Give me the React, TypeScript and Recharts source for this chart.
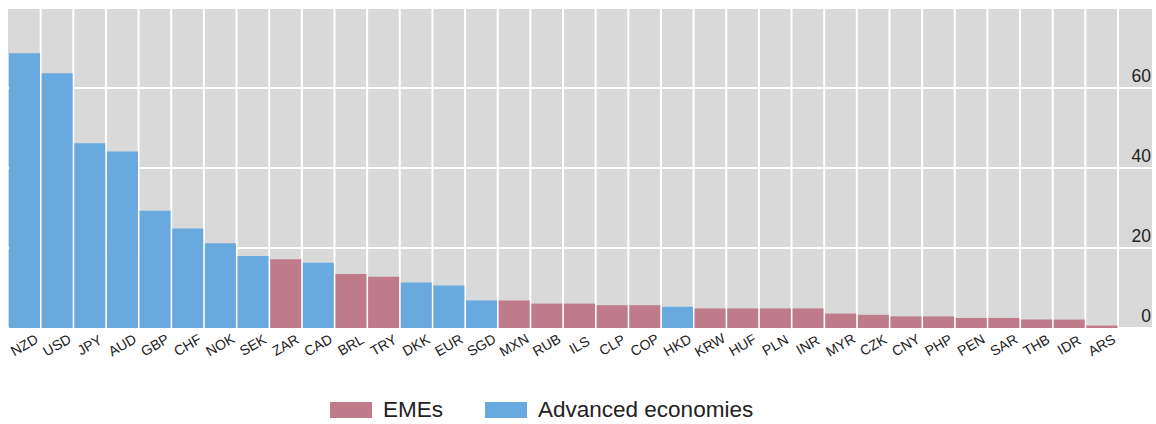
import React from "react";
import {
  BarChart,
  Bar,
  XAxis,
  YAxis,
  CartesianGrid,
  Legend,
} from "recharts";

// share of turnover, %, sorted descending
const CURRENCIES = [
  "NZD", "USD", "JPY", "AUD", "GBP", "CHF", "NOK", "SEK", "ZAR", "CAD", "BRL", "TRY",
  "DKK", "EUR", "SGD", "MXN", "RUB", "ILS", "CLP", "COP", "HKD", "KRW", "HUF", "PLN",
  "INR", "MYR", "CZK", "CNY", "PHP", "PEN", "SAR", "THB", "IDR", "ARS",
];
const VALUES = [
  68.7, 63.7, 46.2, 44.1, 29.3, 24.9, 21.2, 18.0, 17.2, 16.3, 13.5, 12.8,
  11.4, 10.6, 6.9, 6.9, 6.1, 6.1, 5.7, 5.7, 5.3, 4.9, 4.9, 4.9,
  4.9, 3.6, 3.3, 2.9, 2.9, 2.5, 2.5, 2.1, 2.1, 0.6,
];
const EME_CURRENCIES = [
  "ZAR", "BRL", "TRY", "MXN", "RUB", "ILS", "CLP", "COP", "KRW", "HUF", "PLN",
  "INR", "MYR", "CZK", "CNY", "PHP", "PEN", "SAR", "THB", "IDR", "ARS",
];
const Y_TICKS = [0, 20, 40, 60];
const LEGEND_ORDER = ["EMEs", "Advanced economies"];

const EME_COLOR = "#c07b8b";
const ADV_COLOR = "#68a9df";
const FONT = "'Liberation Sans', Arial, sans-serif";
const PAD_RIGHT = 34;
const CHART_W = 1156;
const CHART_H = 424;

const data = CURRENCIES.map((name, i) => {
  const isEme = EME_CURRENCIES.includes(name);
  return {
    name,
    eme: isEme ? VALUES[i] : null,
    adv: isEme ? null : VALUES[i],
  };
});

const XTick = ({ x, y, payload }: any) => (
  <g transform={`translate(${x},${y + 17})`}>
    <text
      x={0}
      y={0}
      dy="0.35em"
      textAnchor="middle"
      transform="rotate(-30)"
      fontSize={14}
      fontFamily={FONT}
      fill="#222"
    >
      {payload.value}
    </text>
  </g>
);

// labels sit just above their gridline, right-aligned inside the grey panel
const YTick = ({ y, payload }: any) => (
  <text x={CHART_W - 5} y={y - 6} textAnchor="end" fontSize={17.5} fontFamily={FONT} fill="#222">
    {payload.value}
  </text>
);

const renderLegend = (props: any) => {
  const items = [...props.payload].sort(
    (a: any, b: any) => LEGEND_ORDER.indexOf(a.value) - LEGEND_ORDER.indexOf(b.value)
  );
  return (
    <div style={{ display: "flex", alignItems: "center", marginLeft: 322, height: 28 }}>
      {items.map((p: any, i: number) => (
        <div key={i} style={{ display: "flex", alignItems: "center", marginRight: 42 }}>
          <span
            style={{ display: "inline-block", width: 42, height: 16, background: p.color, marginRight: 11 }}
          />
          <span style={{ fontSize: 22.5, fontFamily: FONT, color: "#222" }}>{p.value}</span>
        </div>
      ))}
    </div>
  );
};

const verticalLines = ({ offset }: any) => {
  const bw = (offset.width - PAD_RIGHT) / CURRENCIES.length;
  return CURRENCIES.map((_, i) => offset.left + (i + 1) * bw);
};

export default function App() {
  return (
    <>
      <style>{"body { margin: 0; }"}</style>
      <BarChart
        width={CHART_W}
        height={CHART_H}
        data={data}
        margin={{ top: 8, right: 4, left: 8, bottom: 0 }}
        barCategoryGap={1}
      >
        <CartesianGrid
          fill="#d9d9d9"
          fillOpacity={1}
          stroke="#ffffff"
          strokeWidth={2}
          verticalCoordinatesGenerator={verticalLines}
        />
        <XAxis
          dataKey="name"
          interval={0}
          height={68}
          padding={{ left: 0, right: PAD_RIGHT }}
          axisLine={false}
          tickLine={false}
          tickSize={0}
          tickMargin={0}
          tick={<XTick />}
        />
        <YAxis
          orientation="right"
          mirror
          domain={[0, 80]}
          ticks={Y_TICKS}
          axisLine={false}
          tickLine={false}
          tickSize={0}
          tick={<YTick />}
        />
        <Legend verticalAlign="bottom" content={renderLegend} />
        <Bar dataKey="eme" name="EMEs" stackId="a" fill={EME_COLOR} isAnimationActive={false} />
        <Bar dataKey="adv" name="Advanced economies" stackId="a" fill={ADV_COLOR} isAnimationActive={false} />
      </BarChart>
    </>
  );
}
